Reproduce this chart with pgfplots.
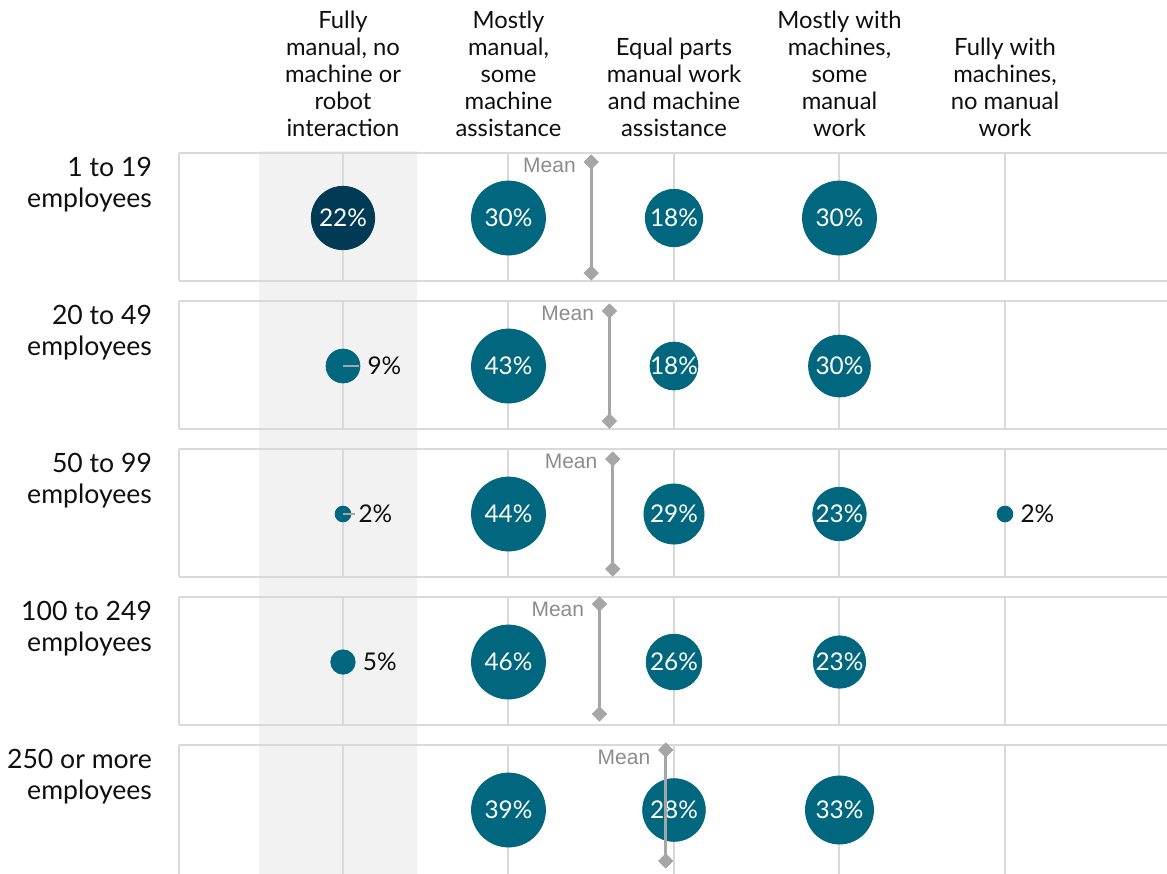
\documentclass[border=0pt]{standalone}
\usepackage{pgfplots}
\pgfplotsset{compat=1.18}
\usepackage{pgfplotstable}
\usepackage{fontspec}
\setmainfont{Lato}
\newfontfamily\meanfont{Liberation Sans}
\definecolor{bub}{RGB}{0,103,127}
\definecolor{bubdark}{RGB}{0,58,84}
\definecolor{gridc}{RGB}{217,217,217}
\definecolor{shadec}{RGB}{242,242,242}
\definecolor{meanc}{RGB}{166,166,166}
\definecolor{meantext}{RGB}{140,140,140}
\definecolor{txt}{RGB}{15,15,15}
\newcommand\hdrfont{\fontsize{11.9}{13.5}\selectfont}
\newcommand\rowfont{\fontsize{13.3}{15.5}\selectfont}
\newcommand\lblfont{\fontsize{12.2}{14}\selectfont}
\tikzset{
  meanline/.style={meanc, line width=1.5pt, mark=square*, mark size=2.5pt,
     mark options={rotate=45, solid, fill=meanc, draw=meanc, line width=0.4pt}},
  meanlbl/.style={anchor=east, xshift=-4.2pt, text=meantext, font=\meanfont\fontsize{10.5}{12}\selectfont},
}

% x = automation level (1..5), y = company size row (1..5)
% v = share in %, m = largest share in the row (bubble scaling), d = dark highlight, out = label outside
\pgfplotstableread{
x y v m d out
1 1 22 30 1 0
2 1 30 30 0 0
3 1 18 30 0 0
4 1 30 30 0 0
1 2 9 43 0 1
2 2 43 43 0 0
3 2 18 43 0 0
4 2 30 43 0 0
1 3 2 44 0 1
2 3 44 44 0 0
3 3 29 44 0 0
4 3 23 44 0 0
5 3 2 44 0 1
1 4 5 46 0 1
2 4 46 46 0 0
3 4 26 46 0 0
4 4 23 46 0 0
2 5 39 39 0 0
3 5 28 39 0 0
4 5 33 39 0 0
}\bubbles

% #1 = row, #2 = bottom of the panel
\newcommand\panel[2]{%
  \draw[gridc, line width=1pt]
    (axis cs:0.009,#1-0.439) -- (axis cs:0.009,#2)
    (axis cs:0.009,#1-0.439) -- (axis cs:6.5,#1-0.439)
    (axis cs:0.009,#2) -- (axis cs:6.5,#2)
    (axis cs:1,#1-0.439) -- (axis cs:1,#2)
    (axis cs:2,#1-0.439) -- (axis cs:2,#2)
    (axis cs:3,#1-0.439) -- (axis cs:3,#2)
    (axis cs:4,#1-0.439) -- (axis cs:4,#2)
    (axis cs:5,#1-0.439) -- (axis cs:5,#2);
}

\begin{document}
\begin{tikzpicture}
\path[use as bounding box] (-88.5pt,75pt) rectangle (495pt,-361.5pt);
\begin{axis}[
  at={(0pt,0pt)}, anchor=north west,
  scale only axis, width=495pt, height=361.5pt,
  xmin=-0.003, xmax=5.979,
  ymin=0.5405, ymax=5.4257, y dir=reverse,
  axis line style={draw=none},
  major tick length=0pt,
  xtick={1,2,3,4,5},
  xticklabel pos=upper,
  xticklabels={{Fully\\manual, no\\machine or\\robot\\interaction},
                {Mostly\\manual,\\some\\machine\\assistance},
                {Equal parts\\manual work\\and machine\\assistance},
                {Mostly with\\machines,\\some\\manual\\work},
                {Fully with\\machines,\\no manual\\work}},
  xticklabel style={align=center, anchor=south, font=\hdrfont, text=txt, yshift=3pt},
  ytick={1,2,3,4,5},
  yticklabels={{1 to 19\\employees},{20 to 49\\employees},{50 to 99\\employees},
                {100 to 249\\employees},{250 or more\\employees}},
  yticklabel style={align=right, font=\rowfont, text=txt, yshift=16.5pt, xshift=-9pt},
  clip=true, clip marker paths=true,
  colormap={bubmap}{rgb255(0cm)=(0,103,127); rgb255(1cm)=(0,58,84)},
]
% shaded column
\fill[shadec] (axis cs:0.49,0.55) rectangle (axis cs:1.45,6);
% panels
\panel{1}{1.426}
\panel{2}{2.426}
\panel{3}{3.426}
\panel{4}{4.426}
\panel{5}{5.6}

% bubbles
\addplot[scatter, only marks, mark=*, point meta=\thisrow{d},
  point meta min=0, point meta max=1,
  scatter/use mapped color={draw=mapped color, fill=mapped color},
  visualization depends on={18.5*sqrt(\thisrow{v}/\thisrow{m}) \as \rad},
  scatter/@pre marker code/.append style={/tikz/mark size=\rad},
] table[x=x, y=y] {\bubbles};

% leader lines
\addplot[meanc, line width=1pt] coordinates {(1,2) (1.097,2)};
\addplot[meanc, line width=1pt] coordinates {(1,3) (1.072,3)};

% labels inside
\addplot[only marks, mark=none, point meta=explicit symbolic,
  restrict expr to domain={\thisrow{out}}{0:0},
  nodes near coords={\pgfplotspointmeta\%},
  every node near coord/.append style={anchor=center, text=white, font=\lblfont},
] table[x=x, y=y, meta=v] {\bubbles};

% labels outside
\addplot[only marks, mark=none, point meta=explicit symbolic,
  restrict expr to domain={\thisrow{out}}{1:1},
  visualization depends on={18.5*sqrt(\thisrow{v}/\thisrow{m}) \as \rad},
  nodes near coords={\pgfplotspointmeta\%},
  every node near coord/.append style={anchor=west, xshift=\rad pt+0.3pt, text=txt, font=\lblfont},
] table[x=x, y=y, meta=v] {\bubbles};

% mean markers
\addplot[meanline] coordinates {(2.50,0.622) (2.50,1.372)};
\addplot[meanline] coordinates {(2.61,1.628) (2.61,2.372)};
\addplot[meanline] coordinates {(2.63,2.628) (2.63,3.372)};
\addplot[meanline] coordinates {(2.55,3.608) (2.55,4.351)};
\addplot[meanline] coordinates {(2.95,4.595) (2.95,5.345)};
\node[meanlbl] at (axis cs:2.50,0.642) {Mean};
\node[meanlbl] at (axis cs:2.61,1.642) {Mean};
\node[meanlbl] at (axis cs:2.63,2.642) {Mean};
\node[meanlbl] at (axis cs:2.55,3.642) {Mean};
\node[meanlbl] at (axis cs:2.95,4.642) {Mean};
\end{axis}
\end{tikzpicture}
\end{document}
